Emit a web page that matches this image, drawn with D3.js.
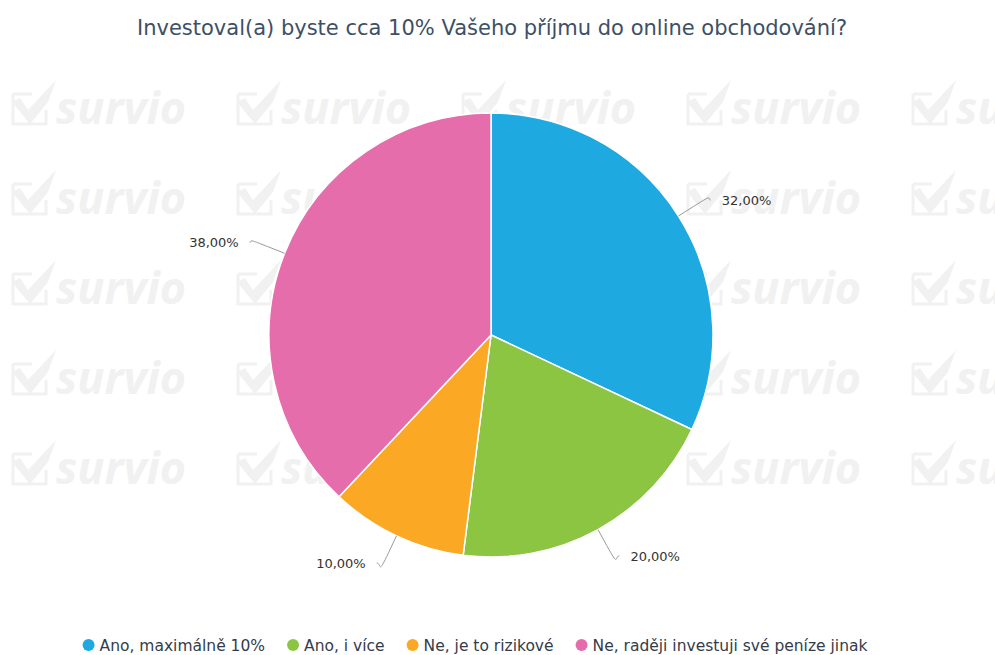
<!DOCTYPE html>
<html>
<head>
<meta charset="utf-8">
<script src="https://cdn.jsdelivr.net/npm/d3@7"></script>
<style>
  html, body { margin: 0; padding: 0; background: #fff; }
  svg { display: block; }
</style>
</head>
<body>
<svg id="chart" width="995" height="655"></svg>
<script>
const title = "Investoval(a) byste cca 10% Vašeho příjmu do online obchodování?";
const categories = ["Ano, maximálně 10%", "Ano, i více", "Ne, je to rizikové", "Ne, raději investuji své peníze jinak"];
const values = [32, 20, 10, 38];
const colors = ["#1fa9e1", "#8bc542", "#fba925", "#e56dab"];
const labelTexts = ["32,00%", "20,00%", "10,00%", "38,00%"];

const W = 995, H = 655;
const svg = d3.select("#chart");

// watermark tiles
const wm = svg.append("g").attr("fill", "#f1f1f1");
const colX = [10, 235, 460, 685, 910];
const rowY = [80, 170, 260, 350, 440];
rowY.forEach(y => colX.forEach(x => {
  const g = wm.append("g").attr("transform", `translate(${x},${y})`);
  g.append("path")
    .attr("d", "M3,14 L22,14 M3,14 L3,44 L36,44 L36,30")
    .attr("fill", "none").attr("stroke", "#f1f1f1").attr("stroke-width", 3);
  g.append("path")
    .attr("d", "M2,22 L10,18 L18,30 L46,0 L38,22 L20,44 Z");
  g.append("text").attr("x", 46).attr("y", 44)
    .attr("font-family", "Open Sans, DejaVu Sans, sans-serif")
    .attr("font-weight", "bold").attr("font-style", "italic")
    .attr("font-size", 45).text("survio");
}));

// title
svg.append("text")
  .attr("x", 492).attr("y", 35)
  .attr("text-anchor", "middle")
  .attr("font-family", "DejaVu Sans, sans-serif")
  .attr("font-size", 21)
  .attr("fill", "#3d5066")
  .text(title);

// pie
const cx = 491, cy = 335, r = 222;
const data = categories.map((c, i) => ({ c, v: values[i], color: colors[i], label: labelTexts[i] }));
const pie = d3.pie().value(d => d.v).sort(null);
const arcs = pie(data);
const arc = d3.arc().innerRadius(0).outerRadius(r);
const g = svg.append("g").attr("transform", `translate(${cx},${cy})`);
g.selectAll("path.slice").data(arcs).join("path")
  .attr("class", "slice")
  .attr("d", arc)
  .attr("fill", d => d.data.color)
  .attr("stroke", "#ffffff")
  .attr("stroke-width", 1.5)
  .attr("stroke-linejoin", "round");

// labels + connectors
arcs.forEach(a => {
  const mid = (a.startAngle + a.endAngle) / 2;
  const s = Math.sin(mid), c = -Math.cos(mid);
  const E = [r * s, r * c];
  const B = [(r + 30) * s, (r + 30) * c];
  const right = s >= 0;
  const L = [B[0] + (right ? 7 : -7), B[1]];
  const path = d3.path();
  path.moveTo(L[0], L[1]);
  path.bezierCurveTo(L[0] + (right ? -5 : 5), L[1], 2 * B[0] - (B[0] + E[0]) / 2, 2 * B[1] - (B[1] + E[1]) / 2, (B[0] * 0.6 + E[0] * 0.4), (B[1] * 0.6 + E[1] * 0.4));
  path.lineTo(E[0], E[1]);
  g.append("path").attr("d", path.toString())
    .attr("fill", "none").attr("stroke", "#9a9a9a").attr("stroke-width", 1);
  g.append("text")
    .attr("x", B[0] + (right ? 18 : -18)).attr("y", B[1] + 5)
    .attr("text-anchor", right ? "start" : "end")
    .attr("font-family", "DejaVu Sans, sans-serif")
    .attr("font-size", 13)
    .attr("fill", "#333333")
    .text(a.data.label);
});

// legend
const legend = svg.append("g");
const items = legend.selectAll("g").data(data).join("g");
items.append("circle").attr("r", 6).attr("cy", 0).attr("fill", d => d.color);
const texts = items.append("text").attr("x", 11).attr("y", 5.5)
  .attr("font-family", "DejaVu Sans, sans-serif")
  .attr("font-size", 15.5)
  .attr("fill", "#333c4a")
  .text(d => d.c);
const gap = 28;
let widths = [];
texts.each(function() { widths.push(11 + this.getComputedTextLength()); });
const total = d3.sum(widths) + gap * (widths.length - 1);
let x0 = 475 - total / 2 + 3;
items.attr("transform", (d, i) => {
  const t = `translate(${x0},645)`;
  x0 += widths[i] + gap;
  return t;
});
</script>
</body>
</html>
